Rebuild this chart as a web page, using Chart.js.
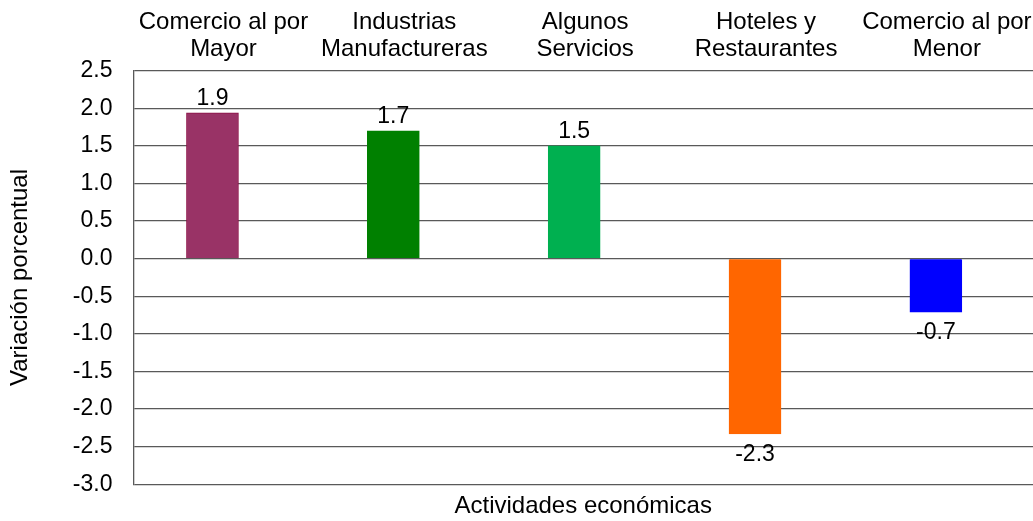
<!DOCTYPE html>
<html>
<head>
<meta charset="utf-8">
<script src="https://cdn.jsdelivr.net/npm/chart.js@4"></script>
<style>
  html, body { margin: 0; padding: 0; background: #fff; }
  #wrap { width: 1033px; height: 521px; position: relative; }
</style>
</head>
<body>
<div id="wrap"><canvas id="chart"></canvas></div>
<script>
// Data
const categories = [
  ['Comercio al por', 'Mayor'],
  ['Industrias', 'Manufactureras'],
  ['Algunos', 'Servicios'],
  ['Hoteles y', 'Restaurantes'],
  ['Comercio al por', 'Menor']
];
const values = [1.94, 1.70, 1.50, -2.33, -0.71];
const valueLabels = ['1.9', '1.7', '1.5', '-2.3', '-0.7'];
const barColors = ['#993366', '#008000', '#00B050', '#FF6600', '#0000FF'];
const borderColors = ['#8B1046', '#008000', '#00B050', '#FF6600', '#0000FF'];
const yTicks = [-3.0, -2.5, -2.0, -1.5, -1.0, -0.5, 0.0, 0.5, 1.0, 1.5, 2.0, 2.5];

const FONT = "'Liberation Sans', Arial, sans-serif";
const X_MIN = -0.437, X_MAX = 4.537;

// value labels above / below each bar
const valueLabelPlugin = {
    id: 'valueLabels',
    afterDatasetsDraw(chart) {
        const ctx = chart.ctx;
        const meta = chart.getDatasetMeta(0);
        ctx.save();
        ctx.font = `23px ${FONT}`;
        ctx.fillStyle = '#000';
        ctx.textAlign = 'center';
        ctx.textBaseline = 'alphabetic';
        meta.data.forEach((bar, i) => {
            const y = values[i] >= 0 ? bar.y - 8 : bar.y + 27;
            ctx.fillText(valueLabels[i], bar.x, y);
        });
        ctx.restore();
    }
};

new Chart(document.getElementById('chart'), {
    type: 'bar',
    data: {
        datasets: [{
            data: values.map((v, i) => ({ x: i, y: v })),
            backgroundColor: barColors,
            borderColor: borderColors,
            borderWidth: 1,
            barThickness: 52
        }]
    },
    options: {
        responsive: true,
        maintainAspectRatio: false,
        animation: false,
        layout: { padding: { top: 1, right: 0, bottom: 0, left: 0 } },
        plugins: { legend: { display: false }, tooltip: { enabled: false } },
        scales: {
            x: {
                type: 'linear',
                position: 'top',
                offset: false,
                min: X_MIN,
                max: X_MAX,
                afterBuildTicks: (axis) => { axis.ticks = categories.map((_, i) => ({ value: i })); },
                grid: { display: false, drawTicks: false, offset: false },
                border: { display: false },
                ticks: {
                    autoSkip: false,
                    maxRotation: 0,
                    padding: 8,
                    labelOffset: 11,
                    color: '#000',
                    font: { family: FONT, size: 24, lineHeight: 1.12 },
                    callback: (v) => categories[v]
                }
            },
            xTitle: {
                type: 'linear',
                axis: 'x',
                position: 'bottom',
                offset: false,
                min: X_MIN,
                max: X_MAX,
                grid: { display: false, drawTicks: false },
                border: { display: false },
                ticks: { display: false },
                title: {
                    display: true,
                    text: 'Actividades económicas',
                    color: '#000',
                    font: { family: FONT, size: 24 },
                    padding: { top: 8, bottom: 0 }
                }
            },
            y: {
                min: -3.0,
                max: 2.5,
                afterBuildTicks: (axis) => { axis.ticks = yTicks.map(v => ({ value: v })); },
                grid: { color: '#595959', lineWidth: 1.3, drawTicks: false },
                border: { display: true, color: '#595959', width: 1.3 },
                ticks: {
                    padding: 21,
                    color: '#000',
                    font: { family: FONT, size: 23 },
                    callback: (v) => Number(v).toFixed(1)
                },
                title: {
                    display: true,
                    text: 'Variación porcentual',
                    color: '#000',
                    font: { family: FONT, size: 24 },
                    padding: { top: 6, bottom: 17 }
                }
            }
        }
    },
    plugins: [valueLabelPlugin]
});
</script>
</body>
</html>
